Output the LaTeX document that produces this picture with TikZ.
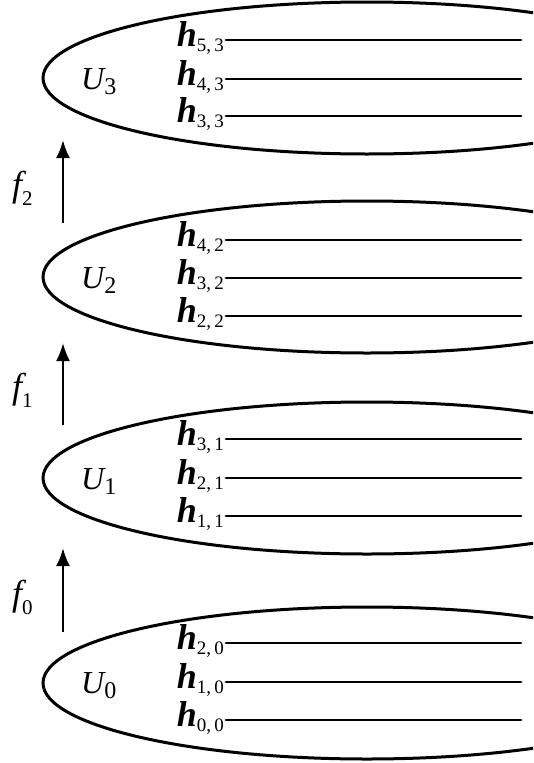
\documentclass[tikz,border=0pt]{standalone}
\usepackage{fontspec}
\setmainfont{Liberation Serif}
\usetikzlibrary{arrows.meta,shapes.geometric}
\newcommand{\hlab}[2]{{\fontsize{36}{36}\selectfont\bfseries\itshape h}\raisebox{-5pt}{\fontsize{19}{19}\selectfont #1,\,#2}}
\newcommand{\ulab}[1]{{\fontsize{32}{32}\selectfont\itshape U}\raisebox{-5pt}{\fontsize{24}{24}\selectfont #1}}
\newcommand{\flab}[1]{{\fontsize{36}{36}\selectfont\itshape f}\raisebox{-9pt}{\fontsize{21}{21}\selectfont #1}}
\tikzset{
  ellbox/.style={draw, ellipse, line width=3pt, minimum width=648pt, minimum height=152pt, inner sep=0pt},
  hnode/.style={inner sep=0pt, anchor=base east},
  unode/.style={inner sep=0pt, anchor=base west},
  fnode/.style={inner sep=0pt, anchor=base west},
  hline/.style={line width=2.8pt, line cap=round},
  uparrow/.style={line width=2.4pt, -{Latex[length=18pt,width=14pt]}}
}
\begin{document}
\begin{tikzpicture}[x=1pt,y=-1pt]
\useasboundingbox (0,0) rectangle (533,763);
\clip (0,0) rectangle (533,763);
\fill[white] (0,0) rectangle (533,763);

% ellipses
\node[ellbox] (E3) at (367,78) {};
\node[ellbox] (E2) at (367,277) {};
\node[ellbox] (E1) at (367,478) {};
\node[ellbox] (E0) at (367,683) {};

% U labels
\node[unode] (U3) at (81,89) {\ulab{3}};
\node[unode] (U2) at (81,288) {\ulab{2}};
\node[unode] (U1) at (81,489) {\ulab{1}};
\node[unode] (U0) at (81,693) {\ulab{0}};

% h labels and lines
\foreach \name/\a/\b/\ly in {
  h53/5/3/40, h43/4/3/79, h33/3/3/116,
  h42/4/2/240, h32/3/2/278, h22/2/2/316,
  h31/3/1/439, h21/2/1/478, h11/1/1/516,
  h20/2/0/643, h10/1/0/682, h00/0/0/720}{
  \node[hnode] (\name) at (224,\ly+6) {\hlab{\a}{\b}};
  \coordinate (e\name) at (521,\ly);
  \draw[hline] (\name.east |- e\name) ++(2,0) -- (e\name);
}

% arrows
\coordinate (a2) at (63,223); \coordinate (b2) at (63,140);
\coordinate (a1) at (63,425); \coordinate (b1) at (63,343);
\coordinate (a0) at (63,632); \coordinate (b0) at (63,548);
\draw[uparrow] (a2) -- (b2);
\draw[uparrow] (a1) -- (b1);
\draw[uparrow] (a0) -- (b0);

% f labels
\node[fnode] (f2) at (12,196) {\flab{2}};
\node[fnode] (f1) at (12,398) {\flab{1}};
\node[fnode] (f0) at (12,605) {\flab{0}};
\end{tikzpicture}
\end{document}
